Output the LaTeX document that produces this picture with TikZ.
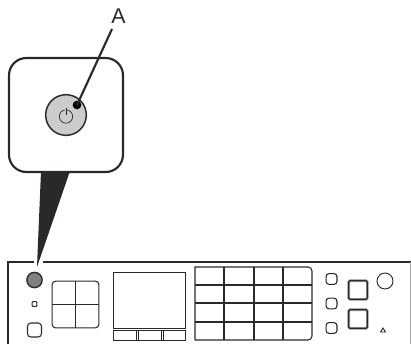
\documentclass[tikz,border=0pt]{standalone}
\usepackage{fontspec}
\setmainfont{Liberation Sans}
\usepackage{xcolor}
\usepackage{tikz}
\usetikzlibrary{arrows.meta,positioning,calc}
\definecolor{inkdark}{HTML}{2B2829}
\begin{document}
\begin{tikzpicture}[
    x=0.75pt,
    y=-0.75pt,
    panelline/.style={draw=inkdark, line width=0.8pt},
    softkey/.style={panelline, rounded corners=2.2pt, inner sep=0pt, outer sep=0pt, minimum width=8.2pt, minimum height=8pt},
    bigkey/.style={draw=black!45, line width=0.6pt, double=inkdark, double distance=0.8pt, inner sep=0pt, outer sep=0pt, minimum width=14pt, minimum height=14pt, rounded corners=1pt},
    roundkey/.style={circle, draw=inkdark, inner sep=0pt, outer sep=0pt}
]
\useasboundingbox (0,0) rectangle (411,344);
% pointer and callout
\fill[inkdark, preaction={draw=white, line width=5pt}] (41,171) -- (70,171) -- (37,267) -- cycle;
\node[draw=inkdark, fill=white, line width=1.6pt, rounded corners=13pt, inner sep=0pt, minimum width=85.5pt, minimum height=85.5pt] (callout) at (66,115) {};
\node[roundkey, fill=black!20, line width=1.1pt, minimum size=30.5pt] (powerbig) at (66,115) {};
\node[circle, draw=inkdark, line width=0.5pt, inner sep=0pt, minimum size=10pt] (powerring) at (66,116.5) {};
\draw[draw=black!20, line width=2pt] (66,109) -- (66,113);
\draw[draw=inkdark, line width=0.5pt] (66,107.5) -- (66,115);
\node[circle, fill=black, inner sep=0pt, minimum size=6.5pt] (dot) at (77,105) {};
\node[inner sep=0pt, font=\fontsize{16}{16}\selectfont, text=inkdark] (labelA) at (118.5,16) {A};
\coordinate (leadA) at (112,29);
\draw[draw=inkdark, line width=1.6pt] (leadA) -- (dot.center);
% control panel outline
\draw[draw=inkdark, line width=1.5pt] (7.5,344) -- (7.5,261.5) -- (34,261.5);
\draw[draw=inkdark, line width=1.5pt] (43,261.5) -- (411,261.5);
\draw[draw=black!35, line width=0.4pt] (410.5,262) -- (410.5,344);
% left keys
\node[roundkey, fill=black!50, line width=1pt, minimum size=11.5pt] (power) at (34.5,280) {};
\node[panelline, rounded corners=0.5pt, inner sep=0pt, minimum size=3.5pt] (lamp) at (34.5,304) {};
\node[softkey, minimum width=10.5pt, minimum height=10.5pt, rounded corners=2.5pt] (homekey) at (34.5,330) {};
\node[panelline, rounded corners=2.5pt, inner sep=0pt, outer sep=0pt, minimum width=35pt, minimum height=35pt] (pad) at (75.5,304.5) {};
\draw[panelline] (pad.north) -- (pad.south);
\draw[panelline] (pad.west) -- (pad.east);
% screen
\node[draw=inkdark, line width=0.7pt, inner sep=0pt, outer sep=0pt, minimum width=54pt, minimum height=41.5pt] (screen) at (149,300.5) {};
\node[draw=inkdark, line width=0.6pt, inner sep=0pt, outer sep=0pt, minimum width=54pt, minimum height=7.5pt] (softbar) at (149,335) {};
\draw[draw=inkdark, line width=0.45pt] (136,330) -- (136,340);
\draw[draw=inkdark, line width=0.45pt] (138,330) -- (138,340);
\draw[draw=inkdark, line width=0.45pt] (161,330) -- (161,340);
\draw[draw=inkdark, line width=0.45pt] (163,330) -- (163,340);
% number keys
\draw[panelline] (195,340) -- (195,267) [rounded corners=3pt] -- (312,267) -- (312,340) [sharp corners] -- (195,340);
\foreach \gx in {224,254,283} {
    \draw[panelline] (\gx,267) -- (\gx,340);
}
\foreach \gy in {285,303,322} {
    \draw[panelline] (195,\gy) -- (312,\gy);
}
% right keys
\node[softkey] (keyone) at (331.5,279) {};
\node[softkey] (keytwo) at (331.5,303.5) {};
\node[softkey] (keythree) at (331.5,328) {};
\node[bigkey] (keystart) at (358,290) {};
\node[bigkey] (keystop) at (358,319) {};
\node[roundkey, line width=0.7pt, minimum size=12pt] (dial) at (385,281) {};
\draw[draw=inkdark, line width=0.7pt] (380.5,332) -- (383,328) -- (385.5,332) -- cycle;
\end{tikzpicture}
\end{document}
